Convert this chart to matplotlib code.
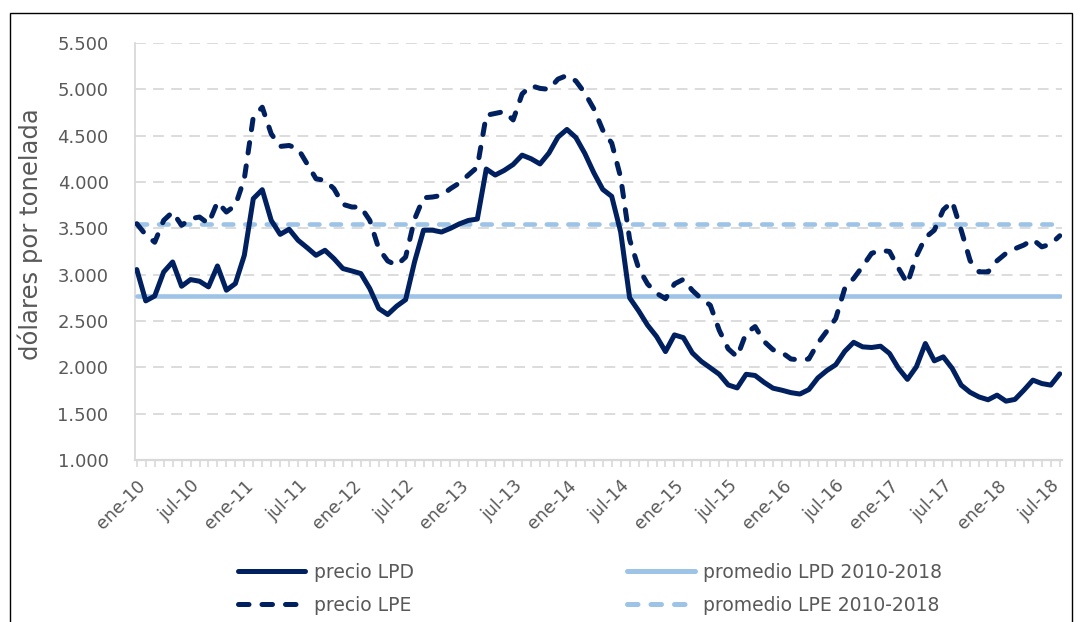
import numpy as np
import matplotlib
matplotlib.use("Agg")
import matplotlib.pyplot as plt
from matplotlib.lines import Line2D
from matplotlib.patches import Rectangle

# ---------------- data ----------------
tick_labels = ["ene-10", "jul-10", "ene-11", "jul-11", "ene-12", "jul-12",
               "ene-13", "jul-13", "ene-14", "jul-14", "ene-15", "jul-15",
               "ene-16", "jul-16", "ene-17", "jul-17", "ene-18", "jul-18"]

precio_lpd = [3055, 2717, 2770, 3029, 3137, 2875, 2947, 2929, 2868, 3094,
              2832, 2904, 3209, 3820, 3917, 3586, 3435, 3490, 3371, 3292,
              3209, 3263, 3173, 3066, 3040, 3012, 2850, 2635, 2570, 2660,
              2730, 3140, 3480, 3480, 3460, 3500, 3548, 3585, 3600, 4140,
              4075, 4125, 4189, 4290, 4251, 4195, 4313, 4484, 4567, 4480,
              4308, 4100, 3920, 3845, 3460, 2750, 2610, 2455, 2333, 2170,
              2350, 2320, 2155, 2064, 1995, 1925, 1810, 1778, 1925, 1912,
              1838, 1775, 1753, 1727, 1712, 1760, 1885, 1965, 2028, 2172,
              2270, 2221, 2214, 2228, 2150, 1990, 1870, 2006, 2257, 2070,
              2113, 1988, 1808, 1730, 1680, 1650, 1700, 1635, 1654, 1754,
              1862, 1825, 1808, 1930]

precio_lpe = [3550, 3430, 3350, 3586, 3676, 3532, 3604, 3622, 3550, 3784,
              3676, 3748, 4035, 4700, 4807, 4520, 4384, 4394, 4359, 4197,
              4035, 4017, 3928, 3759, 3730, 3730, 3586, 3281, 3148, 3101,
              3190, 3600, 3830, 3838, 3855, 3928, 3990, 4075, 4160, 4720,
              4740, 4760, 4670, 4950, 5040, 5010, 5000, 5110, 5150, 5090,
              4960, 4790, 4560, 4420, 4050, 3380, 3070, 2900, 2800, 2740,
              2900, 2950, 2830, 2740, 2670, 2400, 2200, 2113, 2370, 2440,
              2280, 2190, 2160, 2090, 2080, 2090, 2260, 2390, 2527, 2850,
              2960, 3090, 3230, 3263, 3250, 3070, 2904, 3200, 3400, 3480,
              3700, 3790, 3480, 3150, 3030, 3030, 3150, 3230, 3280, 3320,
              3380, 3300, 3330, 3420]

promedio_lpd = 2770
promedio_lpe = 3545

y_ticks = [1000, 1500, 2000, 2500, 3000, 3500, 4000, 4500, 5000, 5500]
y_tick_labels = ["1.000", "1.500", "2.000", "2.500", "3.000", "3.500",
                 "4.000", "4.500", "5.000", "5.500"]

# ---------------- style ----------------
NAVY = "#002060"
LIGHT = "#9DC3E6"
GRAY_TXT = "#595959"
GRID = "#D9D9D9"

plt.rcParams["font.family"] = ["DejaVu Sans"]

W, H = 1081, 622
fig = plt.figure(figsize=(W / 100, H / 100), dpi=100)

L, R, T, B = 135, 1062, 43, 460
ax = fig.add_axes([L / W, 1 - B / H, (R - L) / W, (B - T) / H])

n = len(precio_lpd)
x = np.arange(n)

dash = (0, (2.1, 2.6))
ax.plot(x, [promedio_lpd] * n, color=LIGHT, lw=3.3, solid_capstyle="round",
        label="promedio LPD 2010-2018", zorder=3)
ax.plot(x, [promedio_lpe] * n, color=LIGHT, lw=3.3, linestyle=dash,
        dash_capstyle="round", label="promedio LPE 2010-2018", zorder=3)
ax.plot(x, precio_lpd, color=NAVY, lw=3.6, solid_joinstyle="round",
        solid_capstyle="round", label="precio LPD", zorder=4)
ax.plot(x, precio_lpe, color=NAVY, lw=3.6, linestyle=dash,
        dash_capstyle="round", dash_joinstyle="round", label="precio LPE",
        zorder=4)

ax.set_ylim(1000, 5500)
ax.set_xlim(-0.2, n - 1 + 0.25)
ax.set_yticks(y_ticks)
ax.set_yticklabels(y_tick_labels)
ax.set_xticks(np.arange(0, n, 6))
ax.set_xticklabels(tick_labels, rotation=45, ha="right", rotation_mode="anchor")
ax.set_xticks(x, minor=True)

ax.yaxis.grid(True, color=GRID, lw=1.3, linestyle=(0, (6, 4)))
ax.set_axisbelow(True)
for s in ["top", "right"]:
    ax.spines[s].set_visible(False)
ax.spines["left"].set_color(GRID)
ax.spines["bottom"].set_color(GRID)
ax.spines["left"].set_linewidth(1.3)
ax.spines["bottom"].set_linewidth(1.6)

ax.tick_params(axis="y", length=0, pad=19, labelsize=13, labelcolor=GRAY_TXT)
ax.tick_params(axis="x", which="major", length=5, color=GRID, width=1.2,
               pad=7, labelsize=12.5, labelcolor=GRAY_TXT)
ax.tick_params(axis="x", which="minor", length=5, color=GRID, width=1.2)

ax.set_ylabel("dólares por tonelada", fontsize=17.5, color=GRAY_TXT)
ax.yaxis.set_label_coords(-0.099, 0.542)

handles = [Line2D([], [], color=NAVY, lw=3.6, solid_capstyle="round"),
           Line2D([], [], color=NAVY, lw=3.6, linestyle=dash, dash_capstyle="round"),
           Line2D([], [], color=LIGHT, lw=3.6, solid_capstyle="round"),
           Line2D([], [], color=LIGHT, lw=3.6, linestyle=dash, dash_capstyle="round")]
labels = ["precio LPD", "precio LPE", "promedio LPD 2010-2018",
          "promedio LPE 2010-2018"]
fig.legend(handles, labels, ncol=2, loc="center", bbox_to_anchor=(590 / W, 1 - 589 / H),
           frameon=False, fontsize=13.5, labelcolor=GRAY_TXT, handlelength=3.6,
           handletextpad=0.45, columnspacing=11.4, labelspacing=0.75)

# outer frame
fig.add_artist(Rectangle((10 / W, -0.05), (1072 - 10) / W, 1 - 13 / H + 0.05,
                         transform=fig.transFigure, fill=False,
                         edgecolor="black", lw=1.0))

fig.savefig("out.png", dpi=100)
